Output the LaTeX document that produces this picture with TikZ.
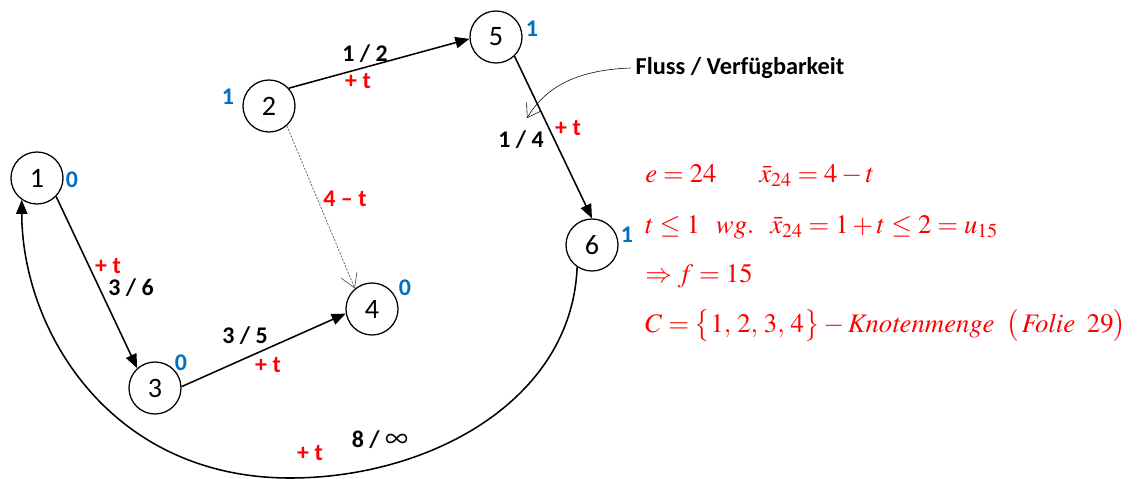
\documentclass[tikz,border=0pt]{standalone}
\usepackage{mathptmx}
\usepackage[no-math]{fontspec}
\setsansfont{Carlito}
\usetikzlibrary{arrows.meta, positioning, calc}
\definecolor{potblue}{RGB}{0,112,192}
\definecolor{plusred}{RGB}{255,0,0}
\definecolor{dotgray}{RGB}{90,90,90}

\begin{document}
\begin{tikzpicture}[x=0.025cm, y=-0.025cm,
  vertex/.style={circle, draw, line width=0.9pt, minimum size=1.3cm, inner sep=0pt,
    font=\sffamily\fontsize{20}{22}\selectfont},
  pot/.style={potblue, font=\sffamily\bfseries\fontsize{17}{19}\selectfont},
  flow/.style={font=\sffamily\bfseries\fontsize{17}{19}\selectfont},
  incr/.style={plusred, font=\sffamily\bfseries\fontsize{17}{19}\selectfont},
  arc/.style={line width=1.1pt, -{Triangle[length=10pt, width=8pt]}},
  eq/.style={plusred, anchor=base west, inner sep=0pt, font=\fontsize{19}{22}\selectfont}]
  \useasboundingbox (0,0) rectangle (1142,479);

  % nodes
  \node[vertex] (n1) at (37,178) {1};
  \node[vertex] (n2) at (269,106) {2};
  \node[vertex] (n3) at (155,388) {3};
  \node[vertex] (n4) at (372,309) {4};
  \node[vertex] (n5) at (496,37) {5};
  \node[vertex] (n6) at (592,245) {6};

  % potentials
  \node[pot] (p1) at (72,180) {0};
  \node[pot] (p2) at (228,97) {1};
  \node[pot] (p3) at (181,363) {0};
  \node[pot] (p4) at (405,288) {0};
  \node[pot] (p5) at (532,29) {1};
  \node[pot] (p6) at (627,235) {1};

  % arcs
  \draw[arc] (n1.-44) -- (n3.132);
  \draw[arc] (n3.3) -- (n4.190);
  \draw[arc] (n2.42) -- (n5.184);
  \draw[arc] (n5.-46) -- (n6.90);
  \draw[arc] (n6.-124) .. controls (572,400) and (430,478) .. (290,478)
    .. controls (110,478) and (22,330) .. (n1.-125);
  \draw[dotgray, line width=0.5pt, dash pattern=on 1.5pt off 1pt,
    -{Straight Barb[length=10pt, width=12pt]}] (n2.-48) -- (n4.130);

  % flow / capacity
  \node[flow] (f13) at (131,288) {3 / 6};
  \node[incr] (t13) at (108,266) {+ t};
  \node[flow] (f34) at (245,336) {3 / 5};
  \node[incr] (t34) at (268,365) {+ t};
  \node[flow] (f25) at (365,54) {1 / 2};
  \node[incr] (t25) at (358,81) {+ t};
  \node[flow] (f56) at (521,140) {1 / 4};
  \node[incr] (t56) at (568,128) {+ t};
  \node[incr] (t24) at (345,199) {4 -- t};
  \node[flow] (f61) at (380,440) {8 / \mdseries\scalebox{1.35}{$\infty$}};
  \node[incr] (t61) at (310,453) {+ t};

  % Annotations
  \node[font=\sffamily\bfseries\fontsize{17.3}{19}\selectfont] (fluss) at (740,68) {Fluss / Verfügbarkeit};
  \coordinate (flusstip) at (527,118);
  \draw[line width=0.4pt, -{Straight Barb[length=9pt, width=12pt]}]
    (fluss.west) .. controls (575,70) and (545,88) .. (flusstip);

  % calculation
  \node[eq] (eq1) at (645,182) {$e=24\hspace{1.6em}\bar{x}_{24}=4-t$};
  \node[eq] (eq2) at (645,233) {$t\le 1\ \ wg.\ \ \bar{x}_{24}=1+t\le 2=u_{15}$};
  \node[eq] (eq3) at (645,282) {$\Rightarrow f=15$};
  \node[eq] (eq4) at (645,332) {$C=\bigl\{1,\,2,\,3,\,4\bigr\}-\mathit{Knotenmenge}\;\;\bigl(\,\mathit{Folie}\;\;29\bigr)$};
\end{tikzpicture}
\end{document}
